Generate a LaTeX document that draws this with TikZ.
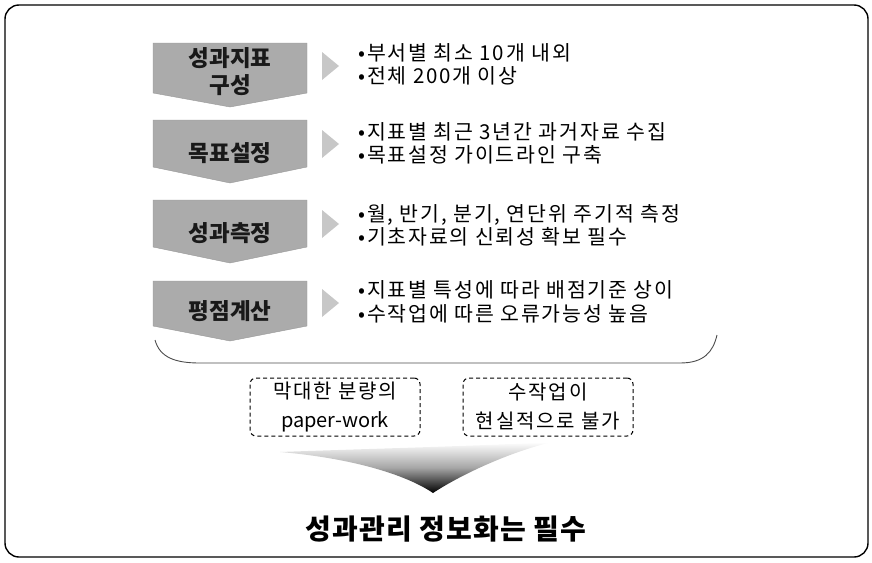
\documentclass[tikz,border=0pt]{standalone}
\usepackage{fontspec}
\setmainfont{Noto Sans CJK KR}
\newfontfamily\krwide[LetterSpace=9]{Noto Sans CJK KR}
\newfontfamily\krmid[LetterSpace=4]{Noto Sans CJK KR}
\tikzset{
  frame/.style={draw=black, line width=1.4pt, rounded corners=14pt},
  chev/.style={fill=black!33, draw=black!40, line width=0.4pt},
  tri/.style={fill=black!22},
  steptext/.style={font=\bfseries\fontsize{22.5}{27}\selectfont, align=center, text=black!90, inner sep=0pt},
  bullets/.style={font=\krwide\fontsize{20.5}{23.5}\selectfont, anchor=west, align=left, inner sep=0pt},
  dashbox/.style={draw, dash pattern=on 4pt off 3pt, line width=1pt, rounded corners=6pt,
    minimum width=170pt, minimum height=58pt, align=center, font=\fontsize{20}{29}\selectfont, inner sep=0pt},
  brace/.style={draw=black!70, line width=0.9pt},
  title/.style={font=\krmid\bfseries\fontsize{28}{32}\selectfont, inner sep=0pt}
}
\newcommand\chevshape[3]{% top, bottom, tip
  \path[chev] (153,#1) -- (307,#1) -- (307,#2) -- (230,#3) -- (153,#2) -- cycle;}
\newcommand\trishape[1]{% center y
  \path[tri] (322,#1-14) -- (339,#1) -- (322,#1+14) -- cycle;}
\begin{document}
\begin{tikzpicture}[x=1pt,y=-1pt]
\useasboundingbox (0,0) rectangle (872,562);
\draw[frame] (5,5) rectangle (868,557);

% step chevrons
\chevshape{43}{93}{107}
\chevshape{120}{167}{183}
\chevshape{200}{247}{263}
\chevshape{281}{326}{341}
\node[steptext] (s1) at (230,72) {성과지표\\구성};
\node[steptext] (s2) at (230,153) {목표설정};
\node[steptext] (s3) at (230,233) {성과측정};
\node[steptext] (s4) at (230,311) {평점계산};

% small triangles
\trishape{66}
\trishape{144}
\trishape{224}
\trishape{303}

% bullet texts
\node[bullets] (b1) at (358,64.5) {•부서별 최소 10개 내외\\•전체 200개 이상};
\node[bullets] (b2) at (358,143.5) {•지표별 최근 3년간 과거자료 수집\\•목표설정 가이드라인 구축};
\node[bullets] (b3) at (358,225.5) {•월, 반기, 분기, 연단위 주기적 측정\\•기초자료의 신뢰성 확보 필수};
\node[bullets] (b4) at (358,302) {•지표별 특성에 따라 배점기준 상이\\•수작업에 따른 오류가능성 높음};

% brace-like curve
\draw[brace] (155,340) .. controls (160,358) and (176,363) .. (200,363) -- (680,363)
  .. controls (704,363) and (713,352) .. (717,335);

% dashed boxes
\node[dashbox] (d1) at (335,407) {{\krwide 막대한 분량의}\\paper-work};
\node[dashbox] (d2) at (548,407) {{\krwide 수작업이}\\{\krwide 현실적으로 불가}};

% funnel
\shade[top color=white, bottom color=black, middle color=black!35]
  (280,452) .. controls (350,458) and (405,474) .. (433,493)
  .. controls (462,474) and (510,452) .. (552,442)
  .. controls (480,446) and (360,449) .. (280,452) -- cycle;

% conclusion
\node[title] (t) at (446,529) {성과관리 정보화는 필수};
\end{tikzpicture}
\end{document}
